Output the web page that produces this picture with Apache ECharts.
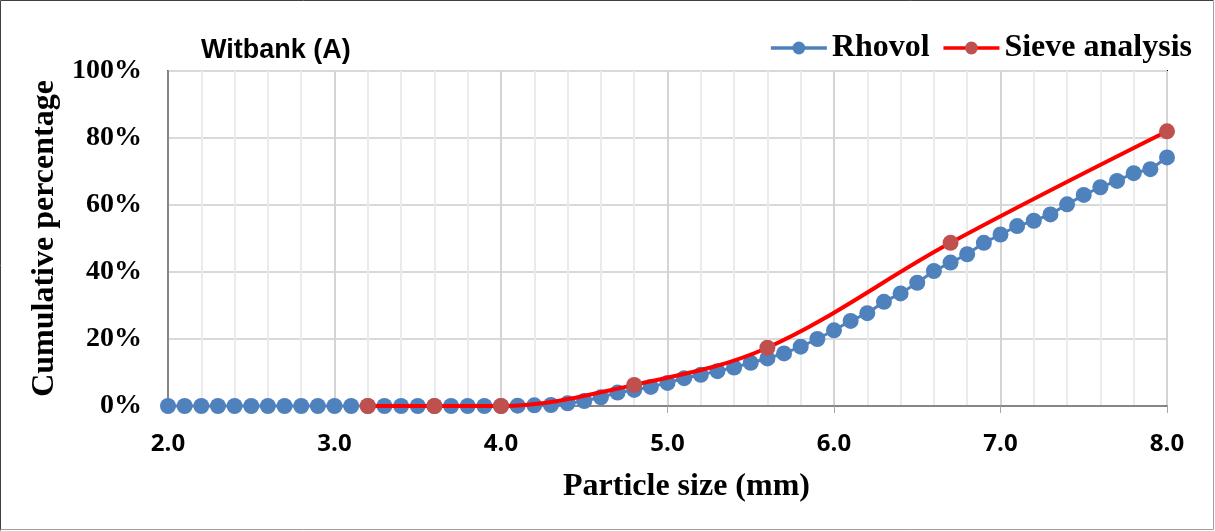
<!DOCTYPE html>
<html>
<head>
<meta charset="utf-8">
<script src="https://cdn.jsdelivr.net/npm/echarts@6/dist/echarts.min.js"></script>
<style>
  html, body { margin: 0; padding: 0; background: #ffffff; }
  #chart { width: 1215px; height: 531px; }
</style>
</head>
<body>
<div id="chart"></div>
<script>
// Particle sizes (mm) sampled by the Rhovol instrument
const sizes = [
  2.0, 2.1, 2.2, 2.3, 2.4, 2.5, 2.6, 2.7, 2.8, 2.9,
  3.0, 3.1, 3.2, 3.3, 3.4, 3.5, 3.6, 3.7, 3.8, 3.9,
  4.0, 4.1, 4.2, 4.3, 4.4, 4.5, 4.6, 4.7, 4.8, 4.9,
  5.0, 5.1, 5.2, 5.3, 5.4, 5.5, 5.6, 5.7, 5.8, 5.9,
  6.0, 6.1, 6.2, 6.3, 6.4, 6.5, 6.6, 6.7, 6.8, 6.9,
  7.0, 7.1, 7.2, 7.3, 7.4, 7.5, 7.6, 7.7, 7.8, 7.9,
  8.0
];

// Rhovol cumulative percentage at each size
const rhovol = [
  0, 0, 0, 0, 0, 0, 0, 0, 0, 0,
  0, 0, 0, 0, 0, 0, 0, 0, 0, 0,
  0, 0.1, 0.2, 0.3, 0.8, 1.5, 2.6, 4.0, 4.8, 5.7,
  6.9, 8.3, 9.3, 10.4, 11.5, 12.9, 14.2, 15.7, 17.7, 20.0,
  22.6, 25.4, 27.7, 31.1, 33.6, 36.8, 40.3, 42.8, 45.3, 48.7,
  51.2, 53.7, 55.3, 57.2, 60.2, 63.0, 65.3, 67.2, 69.5, 70.7,
  74.2
];

// Sieve analysis: aperture sizes (mm) and cumulative percentage
const sieveSizes = [3.2, 3.6, 4.0, 4.8, 5.6, 6.7, 8.0];
const sieve = [0, 0, 0, 6.3, 17.4, 48.7, 82.0];

// Axis ranges and tick spacing
const xMin = 2, xMax = 8, xStep = 1;
const yMin = 0, yMax = 100, yStep = 20;

const serif = '"Liberation Serif", "Times New Roman", serif';
const sans = '"Liberation Sans", Arial, sans-serif';

const chart = echarts.init(document.getElementById('chart'), null, { renderer: 'canvas' });

chart.setOption({
  backgroundColor: '#ffffff',
  animation: false,
  title: {
    text: 'Witbank (A)',
    left: 196,
    top: 32,
    textStyle: { fontFamily: sans, fontWeight: 'bold', fontSize: 27, color: '#000000' }
  },
  legend: {
    right: 18,
    top: 27,
    itemWidth: 56,
    itemHeight: 16,
    itemGap: 12,
    lineStyle: { width: 3.5 },
    textStyle: { fontFamily: serif, fontWeight: 'bold', fontSize: 32, color: '#000000' },
    data: ['Rhovol', 'Sieve analysis']
  },
  grid: {
    left: 168,
    right: 48,
    top: 71,
    bottom: 125,
    show: true,
    borderColor: '#000000',
    borderWidth: 2,
    backgroundColor: 'transparent'
  },
  xAxis: {
    type: 'value',
    min: xMin,
    max: xMax,
    interval: xStep,
    name: 'Particle size (mm)',
    nameLocation: 'middle',
    nameGap: 65,
    nameTextStyle: {
      fontFamily: serif, fontWeight: 'bold', fontSize: 32, color: '#000000',
      padding: [0, 0, 0, 38]
    },
    axisLine: { show: true, onZero: false, lineStyle: { color: '#868686', width: 2 } },
    axisTick: { show: true, inside: false, length: 7, lineStyle: { color: '#a6a6a6', width: 1 } },
    axisLabel: {
      margin: 26,
      fontFamily: '"Open Sans", sans-serif',
      fontWeight: 'bold',
      fontSize: 24,
      color: '#000000',
      formatter: v => v.toFixed(1)
    },
    splitLine: { show: true, lineStyle: { color: '#d4d4d4', width: 2 } },
    minorTick: { show: false, splitNumber: 5 },
    minorSplitLine: { show: true, lineStyle: { color: '#ebebeb', width: 2 } }
  },
  yAxis: {
    type: 'value',
    min: yMin,
    max: yMax,
    interval: yStep,
    name: 'Cumulative percentage',
    nameLocation: 'middle',
    nameGap: 102,
    nameTextStyle: { fontFamily: serif, fontWeight: 'bold', fontSize: 32, color: '#000000' },
    axisLine: { show: true, onZero: false, lineStyle: { color: '#868686', width: 2 } },
    axisTick: { show: false },
    axisLabel: {
      margin: 26,
      fontFamily: serif,
      fontWeight: 'bold',
      fontSize: 28,
      color: '#000000',
      formatter: '{value}%'
    },
    splitLine: { show: true, lineStyle: { color: '#d9d9d9', width: 2 } }
  },
  series: [
    {
      name: 'Rhovol',
      type: 'line',
      data: sizes.map((s, i) => [s, rhovol[i]]),
      symbol: 'circle',
      symbolSize: 16,
      clip: false,
      lineStyle: { color: '#4f81bd', width: 3 },
      itemStyle: { color: '#4f81bd' },
      z: 3
    },
    {
      name: 'Sieve analysis',
      type: 'line',
      data: sieveSizes.map((s, i) => [s, sieve[i]]),
      smooth: 0.35,
      symbol: 'circle',
      symbolSize: 16,
      clip: false,
      lineStyle: { color: '#ff0000', width: 4 },
      itemStyle: { color: '#c0504d' },
      z: 4
    }
  ],
  graphic: [
    {
      type: 'polyline',
      silent: true,
      shape: { points: [[0.5, 530.5], [0.5, 0.5], [1213.5, 0.5]] },
      style: { stroke: '#404040', lineWidth: 1, fill: null }
    },
    {
      type: 'polyline',
      silent: true,
      shape: { points: [[1213.5, 0.5], [1213.5, 529.5], [0.5, 529.5]] },
      style: { stroke: '#a0a0a0', lineWidth: 1, fill: null }
    }
  ]
});
</script>
</body>
</html>
